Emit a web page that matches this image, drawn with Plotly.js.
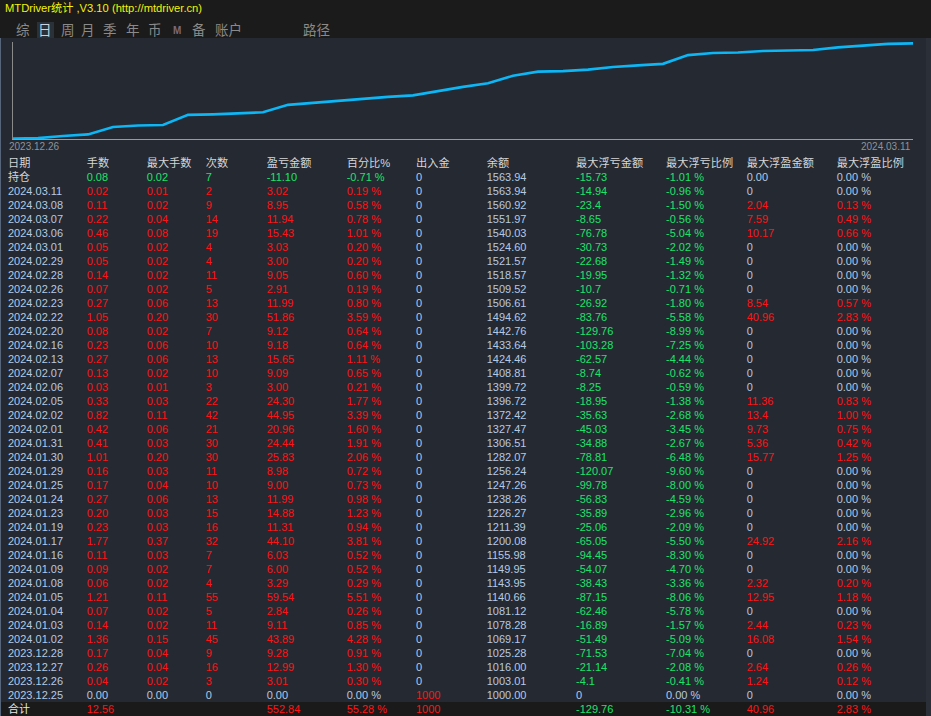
<!DOCTYPE html>
<html><head><meta charset="utf-8">
<script src="https://cdn.plot.ly/plotly-3.0.1.min.js"></script>
<style>html,body{margin:0;padding:0;background:#242932;}#g{width:931px;height:716px;}</style>
</head><body><div id="g"></div>
<script>
var headers = ['日期','手数','最大手数','次数','盈亏金额','百分比%','出入金','余额','最大浮亏金额','最大浮亏比例','最大浮盈金额','最大浮盈比例'];
var openRow = ['持仓','0.08','0.02','7','-11.10','-0.71','0','1563.94','-15.73','-1.01','0.00','0.00'];
var totalRow = ['合计','12.56','','','552.84','55.28','1000','','-129.76','-10.31','40.96','2.83'];
var dates = ['2024.03.11','2024.03.08','2024.03.07','2024.03.06','2024.03.01','2024.02.29','2024.02.28','2024.02.26','2024.02.23','2024.02.22','2024.02.20','2024.02.16','2024.02.13','2024.02.07','2024.02.06','2024.02.05','2024.02.02','2024.02.01','2024.01.31','2024.01.30','2024.01.29','2024.01.25','2024.01.24','2024.01.23','2024.01.19','2024.01.17','2024.01.16','2024.01.09','2024.01.08','2024.01.05','2024.01.04','2024.01.03','2024.01.02','2023.12.28','2023.12.27','2023.12.26','2023.12.25'];
var lots = ['0.02','0.11','0.22','0.46','0.05','0.05','0.14','0.07','0.27','1.05','0.08','0.23','0.27','0.13','0.03','0.33','0.82','0.42','0.41','1.01','0.16','0.17','0.27','0.20','0.23','1.77','0.11','0.09','0.06','1.21','0.07','0.14','1.36','0.17','0.26','0.04','0.00'];
var maxLots = ['0.01','0.02','0.04','0.08','0.02','0.02','0.02','0.02','0.06','0.20','0.02','0.06','0.06','0.02','0.01','0.03','0.11','0.06','0.03','0.20','0.03','0.04','0.06','0.03','0.03','0.37','0.03','0.02','0.02','0.11','0.02','0.02','0.15','0.04','0.04','0.02','0.00'];
var counts = ['2','9','14','19','4','4','11','5','13','30','7','10','13','10','3','22','42','21','30','30','11','10','13','15','16','32','7','7','4','55','5','11','45','9','16','3','0'];
var profit = ['3.02','8.95','11.94','15.43','3.03','3.00','9.05','2.91','11.99','51.86','9.12','9.18','15.65','9.09','3.00','24.30','44.95','20.96','24.44','25.83','8.98','9.00','11.99','14.88','11.31','44.10','6.03','6.00','3.29','59.54','2.84','9.11','43.89','9.28','12.99','3.01','0.00'];
var pct = ['0.19','0.58','0.78','1.01','0.20','0.20','0.60','0.19','0.80','3.59','0.64','0.64','1.11','0.65','0.21','1.77','3.39','1.60','1.91','2.06','0.72','0.73','0.98','1.23','0.94','3.81','0.52','0.52','0.29','5.51','0.26','0.85','4.28','0.91','1.30','0.30','0.00'];
var deposit = ['0','0','0','0','0','0','0','0','0','0','0','0','0','0','0','0','0','0','0','0','0','0','0','0','0','0','0','0','0','0','0','0','0','0','0','0','1000'];
var balance = ['1563.94','1560.92','1551.97','1540.03','1524.60','1521.57','1518.57','1509.52','1506.61','1494.62','1442.76','1433.64','1424.46','1408.81','1399.72','1396.72','1372.42','1327.47','1306.51','1282.07','1256.24','1247.26','1238.26','1226.27','1211.39','1200.08','1155.98','1149.95','1143.95','1140.66','1081.12','1078.28','1069.17','1025.28','1016.00','1003.01','1000.00'];
var maxFloatLoss = ['-14.94','-23.4','-8.65','-76.78','-30.73','-22.68','-19.95','-10.7','-26.92','-83.76','-129.76','-103.28','-62.57','-8.74','-8.25','-18.95','-35.63','-45.03','-34.88','-78.81','-120.07','-99.78','-56.83','-35.89','-25.06','-65.05','-94.45','-54.07','-38.43','-87.15','-62.46','-16.89','-51.49','-71.53','-21.14','-4.1','0'];
var maxFloatLossPct = ['-0.96','-1.50','-0.56','-5.04','-2.02','-1.49','-1.32','-0.71','-1.80','-5.58','-8.99','-7.25','-4.44','-0.62','-0.59','-1.38','-2.68','-3.45','-2.67','-6.48','-9.60','-8.00','-4.59','-2.96','-2.09','-5.50','-8.30','-4.70','-3.36','-8.06','-5.78','-1.57','-5.09','-7.04','-2.08','-0.41','0.00'];
var maxFloatProfit = ['0','2.04','7.59','10.17','0','0','0','0','8.54','40.96','0','0','0','0','0','11.36','13.4','9.73','5.36','15.77','0','0','0','0','0','24.92','0','0','2.32','12.95','0','2.44','16.08','0','2.64','1.24','0'];
var maxFloatProfitPct = ['0.00','0.13','0.49','0.66','0.00','0.00','0.00','0.00','0.57','2.83','0.00','0.00','0.00','0.00','0.00','0.83','1.00','0.75','0.42','1.25','0.00','0.00','0.00','0.00','0.00','2.16','0.00','0.00','0.20','1.18','0.00','0.23','1.54','0.00','0.26','0.12','0.00'];
var chartStartLabel = '2023.12.26', chartEndLabel = '2024.03.11';
var tabs = ['综','日','周','月','季','年','币','M','备','账户','路径'];

// ---------- styling ----------
var BG = '#242932', DARK = '#1b1b1b', RED = '#ff1414', GREEN = '#1de36a', BLUE = '#b6c9e4', HEAD = '#d6d6d6', WHITE = '#e8e8e8';
var CLEAR = 'rgba(0,0,0,0)';
var W = 931, H = 716;
function colorOf(v) { var n = parseFloat(v); if (isNaN(n) || n === 0) return BLUE; return n > 0 ? RED : GREEN; }
function pctText(v) { return v === '' ? '' : v + ' %'; }

var dataCols = [lots, maxLots, counts, profit, pct, deposit, balance, maxFloatLoss, maxFloatLossPct, maxFloatProfit, maxFloatProfitPct];
var pctIdx = {5: true, 9: true, 11: true};
var nCols = headers.length;
var cellValues = [], cellColors = [];
for (var c = 0; c < nCols; c++) {
  var vals = [], cols = [];
  var ov = openRow[c], tv = totalRow[c];
  vals.push(pctIdx[c] ? pctText(ov) : ov);
  // open positions row: trading columns shown in green (floating)
  cols.push(c === 0 ? HEAD : (c >= 1 && c <= 5 ? GREEN : (c === 7 ? BLUE : colorOf(ov))));
  for (var r = 0; r < dates.length; r++) {
    var v = c === 0 ? dates[r] : dataCols[c - 1][r];
    vals.push(pctIdx[c] ? pctText(v) : v);
    cols.push(c === 0 || c === 7 ? BLUE : colorOf(v));
  }
  vals.push(pctIdx[c] ? pctText(tv) : tv);
  cols.push(c === 0 ? WHITE : colorOf(tv));
  cellValues.push(vals); cellColors.push(cols);
}
var colWidths = [78.7, 60, 59, 61, 80, 69.3, 70.7, 89.3, 90, 80.7, 90, 102.3];

var chronoDates = dates.slice().reverse();
var chronoBal = balance.slice().reverse().map(Number);

var FONT = 'Liberation Sans, Noto Sans CJK SC, sans-serif';
var ROW = 14, TABLE_TOP = 150.5;
var traces = [
  {type: 'scatter', mode: 'lines', x: chronoDates, y: chronoBal, xaxis: 'x', yaxis: 'y',
   line: {color: '#0db6f5', width: 2.6, shape: 'linear'}, hoverinfo: 'skip'},
  {type: 'table', domain: {x: [0, 1], y: [0, (H - TABLE_TOP) / H]}, columnwidth: colWidths,
   header: {values: headers, align: 'left', height: ROW, fill: {color: CLEAR}, line: {width: 0, color: CLEAR},
            font: {family: FONT, size: 11.2, color: HEAD}},
   cells: {values: cellValues, align: 'left', height: ROW, fill: {color: CLEAR}, line: {width: 0, color: CLEAR},
           font: {family: FONT, size: 11, color: cellColors}}}
];

var ann = [];
ann.push({xref: 'paper', yref: 'paper', x: 3 / W, y: 1 - 8.5 / H, xanchor: 'left', yanchor: 'middle', showarrow: false,
          text: 'MTDriver统计 ,V3.10 (http://mtdriver.cn)', font: {family: FONT, size: 11.2, color: '#f2f20a'}});
var tabX = [22.5, 44.5, 67.5, 88, 110, 132.5, 154.5, 177, 198.5, 228.5, 316];
for (var i = 0; i < tabs.length; i++) {
  ann.push({xref: 'paper', yref: 'paper', x: tabX[i] / W, y: 1 - 30 / H, xanchor: 'center', yanchor: 'middle', showarrow: false,
            text: tabs[i] === 'M' ? '<b>M</b>' : tabs[i],
            font: {family: FONT, size: tabs[i] === 'M' ? 10 : 13.5, color: i === 1 ? '#c9d2de' : (tabs[i] === 'M' ? '#7d6a78' : '#8a8a8a')}});
}
ann.push({xref: 'x', yref: 'paper', x: chronoDates[0], y: 1 - 146 / H, xanchor: 'left', yanchor: 'middle', xshift: -6, showarrow: false,
          text: chartStartLabel, font: {family: FONT, size: 10, color: '#8e939a'}});
ann.push({xref: 'x', yref: 'paper', x: chronoDates[chronoDates.length - 1], y: 1 - 146 / H, xanchor: 'right', yanchor: 'middle', showarrow: false,
          text: chartEndLabel, font: {family: FONT, size: 10, color: '#8e939a'}});

var shapes = [
  {type: 'rect', xref: 'paper', yref: 'paper', x0: 0, x1: 1, y0: 1 - 38 / H, y1: 1, fillcolor: DARK, line: {width: 0}, layer: 'below'},
  {type: 'rect', xref: 'paper', yref: 'paper', x0: 37 / W, x1: 54 / W, y0: 1 - 38 / H, y1: 1 - 22 / H, fillcolor: '#2a3139', line: {width: 0}, layer: 'below'},
  {type: 'rect', xref: 'paper', yref: 'paper', x0: 0, x1: 926 / W, y0: 0, y1: ROW / H, fillcolor: '#1a1a1a', line: {width: 0}, layer: 'below'},
  {type: 'line', xref: 'paper', yref: 'paper', x0: 0.5 / W, x1: 0.5 / W, y0: 0, y1: 1 - 38 / H, line: {color: '#56657a', width: 1}},
  {type: 'rect', xref: 'paper', yref: 'paper', x0: 926 / W, x1: 1, y0: 0, y1: 1 - 38 / H, fillcolor: '#2b3038', line: {width: 0}, layer: 'below'}
];

var layout = {
  width: W, height: H, margin: {l: 0, r: 0, t: 0, b: 0}, paper_bgcolor: BG, plot_bgcolor: BG, showlegend: false,
  xaxis: {domain: [13 / W, 913 / W], type: 'category', range: [0, chronoDates.length - 1], showgrid: false, zeroline: false,
          showticklabels: false, ticks: '', showline: true, linecolor: '#9a9a9a', linewidth: 1, fixedrange: true},
  yaxis: {domain: [(H - 139) / H, (H - 42) / H], range: [998, 1572], showgrid: false, zeroline: false, showticklabels: false,
          ticks: '', showline: true, linecolor: '#8a8a8a', linewidth: 1, fixedrange: true},
  annotations: ann, shapes: shapes
};
Plotly.newPlot('g', traces, layout, {displayModeBar: false, staticPlot: true});
</script></body></html>
